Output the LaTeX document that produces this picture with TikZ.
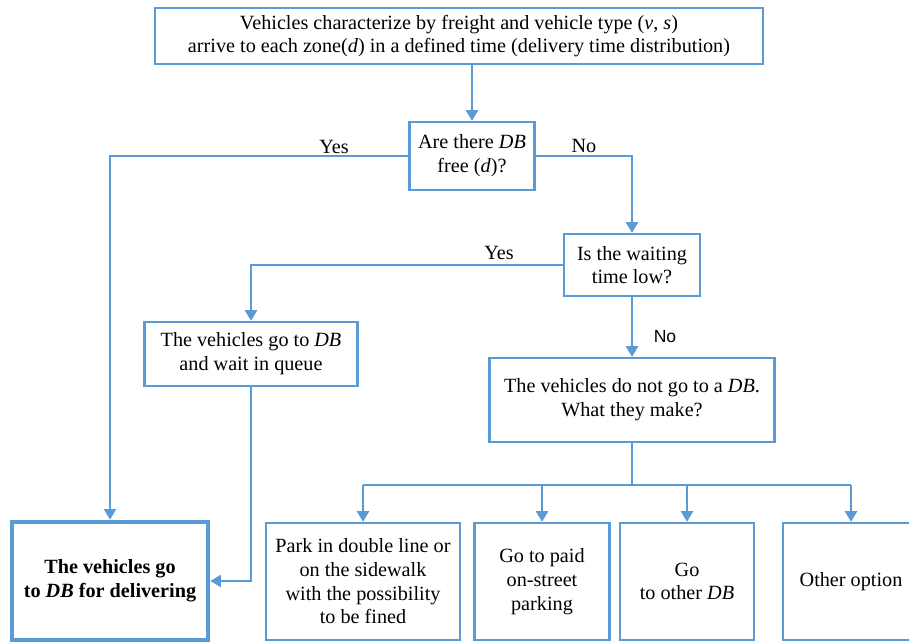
\documentclass[tikz,border=0pt]{standalone}
\usepackage{fontspec}
\setmainfont{Liberation Serif}
\newfontfamily\arialfont{Liberation Sans}
\usetikzlibrary{arrows.meta}
\definecolor{boxblue}{RGB}{91,155,213}

\begin{document}
\begin{tikzpicture}[x=0.02cm,y=-0.02cm,
  every node/.style={font=\fontsize{11.5}{13.5}\selectfont},
  box/.style={draw=boxblue,line width=1.4pt,align=center,inner sep=2pt},
  link/.style={draw=boxblue,line width=0.7pt,-{Triangle[width=7pt,length=6pt]}}]
  \useasboundingbox (0,0) rectangle (909,644);

  \node[box,minimum width=12.16cm,minimum height=1.12cm] (top) at (459,36)
    {Vehicles characterize by freight and vehicle type (\textit{v}, \textit{s})\\
     arrive to each zone(\textit{d}) in a defined time (delivery time distribution)};
  \node[box,minimum width=2.5cm,minimum height=1.36cm] (free) at (472,156)
    {Are there \textit{DB}\\free (\textit{d})?};
  \node[box,minimum width=2.72cm,minimum height=1.24cm] (wait) at (632,265)
    {Is the waiting\\time low?};
  \node[box,minimum width=4.26cm,minimum height=1.28cm] (queue) at (251,354)
    {The vehicles go to \textit{DB}\\and wait in queue};
  \node[box,minimum width=5.7cm,minimum height=1.68cm] (nodb) at (632,400)
    {The vehicles do not go to a \textit{DB}.\\What they make?};
  \node[box,line width=2.8pt,minimum width=3.92cm,minimum height=2.36cm] (deliver) at (110,581)
    {\bfseries The vehicles go\\\bfseries to \textit{DB} for delivering};
  \node[box,minimum width=3.88cm,minimum height=2.34cm] (park) at (363,581.5)
    {Park in double line or\\on the sidewalk\\with the possibility\\to be fined};
  \node[box,minimum width=2.7cm,minimum height=2.34cm] (paid) at (542,581.5)
    {Go to paid\\on-street\\parking};
  \node[box,minimum width=2.68cm,minimum height=2.34cm] (other) at (687,581.5)
    {Go\\to other \textit{DB}};
  \node[box,minimum width=2.72cm,minimum height=2.34cm] (option) at (851,581.5)
    {Other option};

  \coordinate (split) at (632,485);

  \draw[link] (free.north |- top.south) -- (free.north);
  \draw[link] (free.west) -- (deliver.north |- free.west) -- (deliver.north);
  \draw[link] (free.east) -- (wait.north |- free.east) -- (wait.north);
  \draw[link] (wait.west) -- (queue.north |- wait.west) -- (queue.north);
  \draw[link] (wait.south) -- (nodb.north);
  \draw[link] (queue.south) -- (queue.south |- deliver.east) -- (deliver.east);
  \draw[draw=boxblue,line width=0.7pt] (nodb.south) -- (split);
  \draw[draw=boxblue,line width=0.7pt] (park.north |- split) -- (option.north |- split);
  \foreach \i in {park,paid,other,option}{\draw[link] (\i.north |- split) -- (\i.north);}

  \node (yesA) at (334,147) {Yes};
  \node (noA) at (584,146) {No};
  \node (yesB) at (499,253) {Yes};
  \node[font=\arialfont\fontsize{10}{12}\selectfont] (noB) at (665,337) {No};
\end{tikzpicture}
\end{document}
